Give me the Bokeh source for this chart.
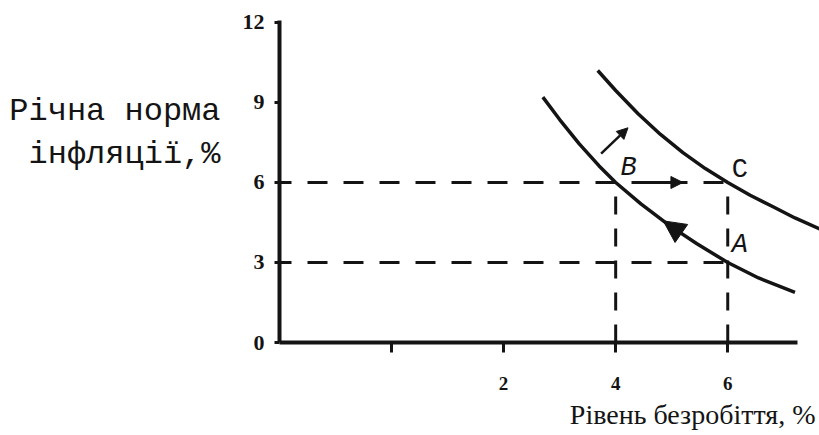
from bokeh.plotting import figure
from bokeh.layouts import row
from bokeh.models import Range1d, FixedTicker, Arrow, NormalHead, Title
from bokeh.core.properties import value
from bokeh.embed import file_html
from bokeh.resources import INLINE

# Axis ticks
unemp_ticks = [0, 2, 4, 6]
infl_ticks = [0, 3, 6, 9, 12]

# Short-run Phillips curve (initial expectations)
spc1_unemp = [2.7, 3.0, 3.35, 3.7, 4.0, 4.45, 4.95, 5.45, 6.0, 6.55, 7.2]
spc1_infl = [9.2, 8.36, 7.45, 6.63, 6.0, 5.2, 4.4, 3.7, 3.0, 2.42, 1.88]

# Short-run Phillips curve after expectations adjust upward
spc2_unemp = [3.68, 4.0, 4.4, 4.8, 5.2, 5.6, 6.0, 6.4, 6.8, 7.2, 7.7]
spc2_infl = [10.2, 9.45, 8.58, 7.8, 7.12, 6.52, 6.0, 5.52, 5.1, 4.67, 4.2]

# Economy states
point_names = ["A", "B", "C"]
point_unemp = [6, 4, 6]
point_infl = [3, 6, 6]

# Axis titles
y_title_lines = ["Річна норма", "інфляції,%"]
x_title = "Рівень безробіття, %"

INK = "#141414"
TITLE_W = 230
H = 435

# ---- main chart ----
p = figure(width=819 - TITLE_W, height=H, output_backend="svg", toolbar_location=None,
           x_range=Range1d(-2, -2 + 540 / 56.03), y_range=Range1d(0, 322 / 26.67),
           min_border_left=279 - TITLE_W, min_border_right=0, min_border_top=20,
           min_border_bottom=93)
p.outline_line_color = None
p.xgrid.visible = False
p.ygrid.visible = False
p.background_fill_color = "white"
p.border_fill_color = "white"

# y axis
ya = p.yaxis[0]
ya.ticker = FixedTicker(ticks=infl_ticks)
ya.axis_line_width = 4
ya.axis_line_color = INK
ya.major_tick_line_width = 3
ya.major_tick_line_color = INK
ya.major_tick_out = 5
ya.major_tick_in = 0
ya.minor_tick_line_color = None
ya.major_label_standoff = 10
ya.major_label_text_font = "Liberation Serif"
ya.major_label_text_font_style = "bold"
ya.major_label_text_font_size = "22px"
ya.major_label_text_color = INK

# x axis
xa = p.xaxis[0]
xa.ticker = FixedTicker(ticks=unemp_ticks)
xa.bounds = (-2, 7.25)
xa.axis_line_width = 4
xa.axis_line_color = INK
xa.major_tick_line_width = 3
xa.major_tick_line_color = INK
xa.major_tick_out = 10
xa.major_tick_in = 0
xa.minor_tick_line_color = None
xa.major_label_overrides = {0: ""}
xa.major_label_standoff = 24
xa.major_label_text_font = "Liberation Serif"
xa.major_label_text_font_style = "bold"
xa.major_label_text_font_size = "19px"
xa.major_label_text_color = INK

p.add_layout(Title(text=x_title, align="right", offset=4, standoff=8,
                   text_font="Liberation Serif", text_font_style="normal",
                   text_font_size="28px", text_color=INK), "below")

# dashed guides: horizontal to A and C, vertical from B and C
h_idx = [0, 2]
v_idx = [1, 2]
p.segment(x0=[-2] * len(h_idx), y0=[point_infl[i] for i in h_idx],
          x1=[point_unemp[i] for i in h_idx], y1=[point_infl[i] for i in h_idx],
          line_color=INK, line_width=3, line_dash="20 16", line_dash_offset=8)
p.segment(x0=[point_unemp[i] for i in v_idx], y0=[0] * len(v_idx),
          x1=[point_unemp[i] for i in v_idx], y1=[point_infl[i] for i in v_idx],
          line_color=INK, line_width=3, line_dash="18 14")

# Phillips curves
p.line(spc1_unemp, spc1_infl, line_color=INK, line_width=3.5)
p.line(spc2_unemp, spc2_infl, line_color=INK, line_width=3.5)

# arrows showing the movement
def head(size):
    return NormalHead(size=size, fill_color=INK, line_color=INK, line_width=1)

p.add_layout(Arrow(end=head(11), x_start=3.74, y_start=7.08, x_end=4.22, y_end=8.05,
                   line_color=INK, line_width=2.5))
p.add_layout(Arrow(end=head(12), x_start=4.63, y_start=6, x_end=5.2, y_end=6,
                   line_color=INK, line_width=3))
p.add_layout(Arrow(end=head(22), x_start=5.15, y_start=4.12, x_end=4.85, y_end=4.56,
                   line_color=INK, line_width=3))

# point letters
label_offsets = {"A": (12, -17, "italic"), "B": (13, -14, "italic"), "C": (12, -12, "normal")}
for name, u, r in zip(point_names, point_unemp, point_infl):
    dx, dy, style = label_offsets[name]
    p.text(x=[u], y=[r], text=[name], x_offset=dx, y_offset=dy,
           text_align="center", text_baseline="middle",
           text_font=value("Liberation Mono"), text_font_style=style,
           text_font_size="27px", text_color=INK)

# ---- panel with the vertical-axis title, laid out horizontally ----
t = figure(width=TITLE_W, height=H, output_backend="svg", toolbar_location=None,
           x_range=Range1d(0, TITLE_W), y_range=Range1d(0, H), min_border=0)
t.axis.visible = False
t.xgrid.visible = False
t.ygrid.visible = False
t.outline_line_color = None
t.text(x=[220, 220], y=[H - 123, H - 181], text=y_title_lines,
       text_align="right", text_baseline="alphabetic",
       text_font=value("Liberation Mono"), text_font_size="32px", text_color=INK)

layout = row(t, p, spacing=0)
open("out.html", "w").write(file_html(layout, INLINE))
